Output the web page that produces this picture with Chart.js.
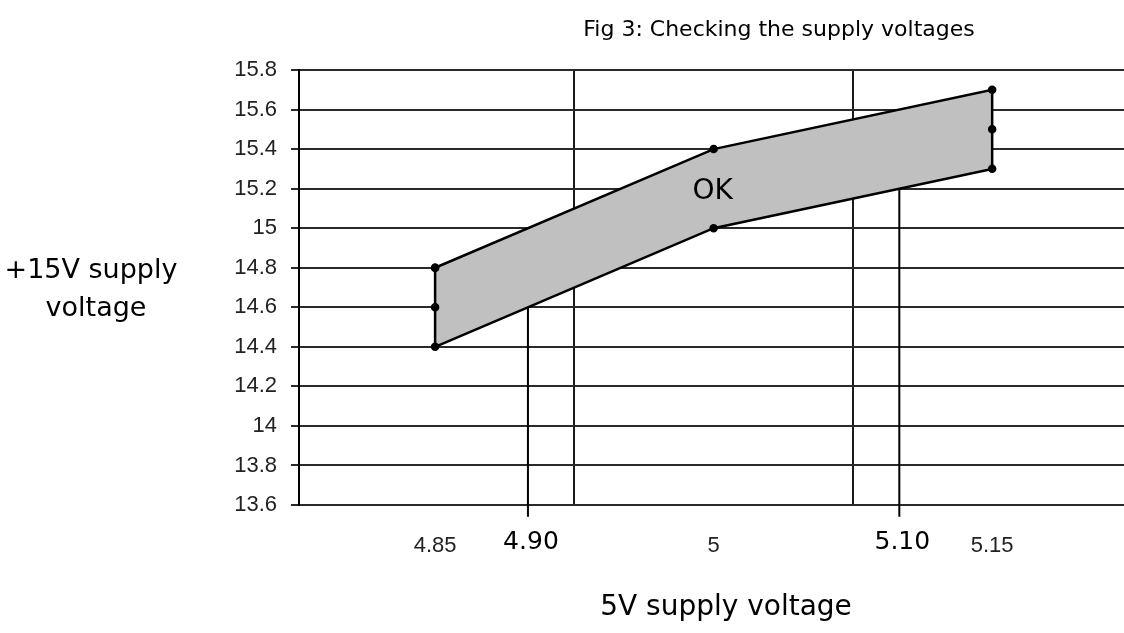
<!DOCTYPE html>
<html>
<head>
<meta charset="utf-8">
<script src="https://cdn.jsdelivr.net/npm/chart.js@4.4.1/dist/chart.umd.min.js"></script>
<style>
  html, body { margin: 0; padding: 0; background: #fff; }
  #wrap { width: 1124px; height: 633px; }
</style>
</head>
<body>
<div id="wrap"><canvas id="chart" width="1124" height="633"></canvas></div>
<script>
// OK region outline: upper edge then lower edge back
const okX = [4.85, 5, 5.15, 5.15, 5.15, 5, 4.85, 4.85, 4.85];
const okY = [14.8, 15.4, 15.7, 15.5, 15.3, 15.0, 14.4, 14.6, 14.8];
// drop lines from the lower edge
const dropX = [4.90, 5.10];
const dropY = [14.6, 15.2];
const yTicks = [13.6, 13.8, 14, 14.2, 14.4, 14.6, 14.8, 15, 15.2, 15.4, 15.6, 15.8];
const xLabels = [4.85, 5, 5.15];
const xGrid = [4.925, 5.075];

const bigFont = '"DejaVu Sans", sans-serif';
const tickFont = '"Liberation Sans", sans-serif';

const textPlugin = {
  id: 'texts',
  afterDraw(chart) {
    const ctx = chart.ctx, xs = chart.scales.x;
    ctx.save();
    ctx.fillStyle = '#000';
    ctx.textAlign = 'center';
    ctx.textBaseline = 'middle';
    ctx.font = '22px ' + bigFont;
    ctx.fillText('Fig 3: Checking the supply voltages', 779, 30);
    ctx.font = '27px ' + bigFont;
    ctx.fillText('+15V supply', 91, 271);
    ctx.fillText('voltage', 96, 309);
    ctx.font = '28px ' + bigFont;
    ctx.fillText('5V supply voltage', 726, 608);
    ctx.fillText('OK', xs.getPixelForValue(5) - 1, 192);
    ctx.font = '25px ' + bigFont;
    dropX.forEach(v => ctx.fillText(v.toFixed(2), xs.getPixelForValue(v) + 3, 542));
    ctx.restore();
  }
};

const datasets = [{
  data: okX.map((x, i) => ({ x, y: okY[i] })),
  showLine: true,
  fill: 'shape',
  backgroundColor: '#c0c0c0',
  borderColor: '#000',
  borderWidth: 2.5,
  pointRadius: 3,
  pointBackgroundColor: '#000',
  pointBorderColor: '#000',
  tension: 0
}];
dropX.forEach((x, i) => datasets.push({
  data: [{ x, y: dropY[i] }, { x, y: 13.54 }],
  showLine: true,
  borderColor: '#000',
  borderWidth: 2,
  pointRadius: 0,
  clip: false
}));

new Chart(document.getElementById('chart'), {
  type: 'scatter',
  data: { datasets },
  options: {
    responsive: false,
    animation: false,
    layout: { autoPadding: false, padding: { top: 70, right: 0, left: 0, bottom: 0 } },
    plugins: { legend: { display: false }, tooltip: { enabled: false }, title: { display: false } },
    scales: {
      x: {
        type: 'linear', min: 4.7767, max: 5.221,
        afterFit: s => { s.height = 128; s.paddingLeft = 0; s.paddingRight = 0; },
        afterBuildTicks: s => { s.ticks = xLabels.concat(xGrid).sort((a, b) => a - b).map(v => ({ value: v })); },
        border: { display: false },
        grid: {
          drawTicks: false,
          color: c => xGrid.includes(c.tick && c.tick.value) ? '#1a1a1a' : 'rgba(0,0,0,0)',
          lineWidth: 2
        },
        ticks: {
          padding: 28, color: '#222',
          font: { family: tickFont, size: 22 },
          callback: v => xLabels.includes(v) ? String(v) : ''
        }
      },
      y: {
        min: 13.6, max: 15.8,
        afterFit: s => { s.width = 299; s.paddingTop = 0; s.paddingBottom = 0; },
        afterBuildTicks: s => { s.ticks = yTicks.map(v => ({ value: v })); },
        border: { display: true, color: '#000', width: 2 },
        grid: { color: '#2a2a2a', lineWidth: 2, tickLength: 8 },
        ticks: {
          padding: 14, color: '#222',
          font: { family: tickFont, size: 22 },
          callback: v => String(v)
        }
      }
    }
  },
  plugins: [textPlugin]
});
</script>
</body>
</html>
